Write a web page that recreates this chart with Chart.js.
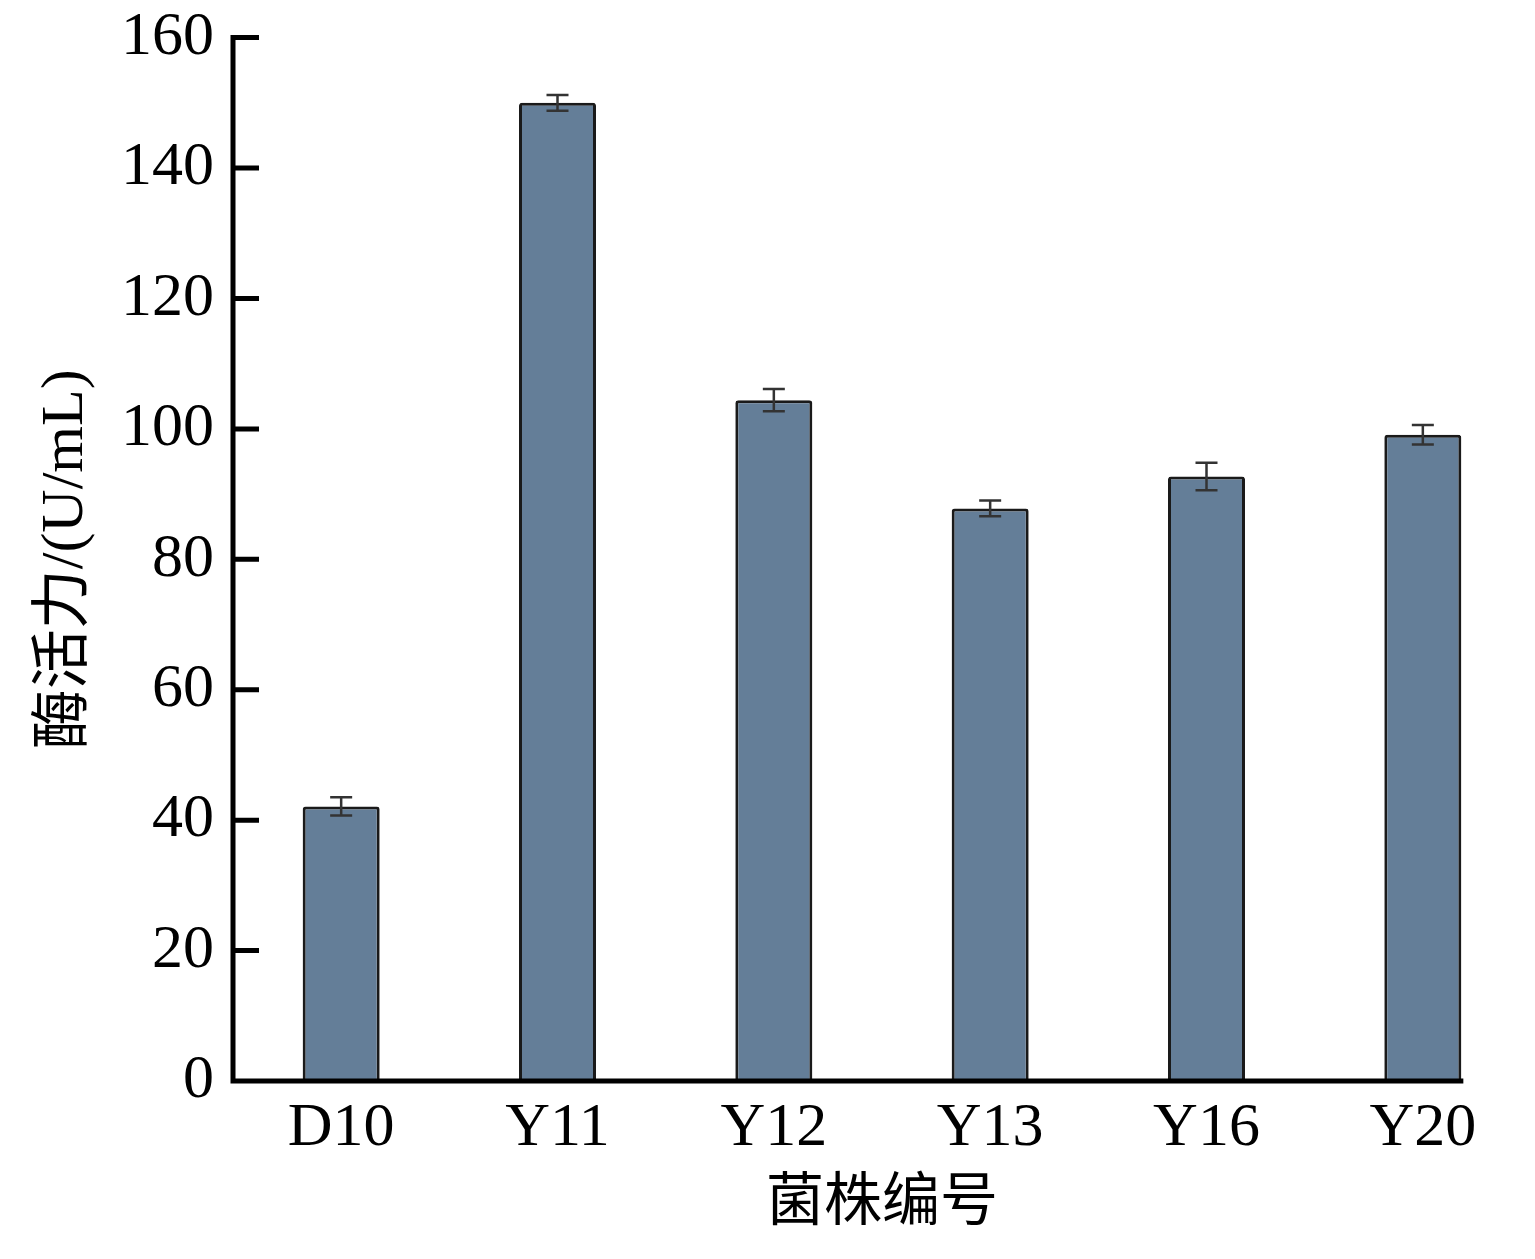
<!DOCTYPE html>
<html>
<head>
<meta charset="utf-8">
<style>
  html, body { margin: 0; padding: 0; background: #fff; }
  #wrap { width: 1535px; height: 1259px; }
</style>
<script src="https://cdn.jsdelivr.net/npm/chart.js@4/dist/chart.umd.min.js"></script>
</head>
<body>
<div id="wrap"><canvas id="myChart"></canvas></div>
<script>
const strains = ['D10', 'Y11', 'Y12', 'Y13', 'Y16', 'Y20'];
const activity = [42.1, 150.0, 104.4, 87.8, 92.7, 99.1];
const errors = [1.4, 1.2, 1.7, 1.2, 2.1, 1.5];
const yTicks = [0, 20, 40, 60, 80, 100, 120, 140, 160];

const serif = "'Liberation Serif', 'Noto Sans CJK SC', serif";

// error bars + axes drawn on top of bars
const extras = {
    id: 'extras',
    afterDatasetsDraw(chart) {
        const ctx = chart.ctx;
        const y = chart.scales.y;
        const meta = chart.getDatasetMeta(0);
        ctx.save();
        // error bars
        ctx.strokeStyle = '#333';
        ctx.lineWidth = 2.5;
        meta.data.forEach((bar, i) => {
            const hi = y.getPixelForValue(activity[i] + errors[i]);
            const lo = y.getPixelForValue(activity[i] - errors[i]);
            ctx.beginPath();
            ctx.moveTo(bar.x, hi); ctx.lineTo(bar.x, lo);
            ctx.moveTo(bar.x - 11, hi); ctx.lineTo(bar.x + 11, hi);
            ctx.moveTo(bar.x - 11, lo); ctx.lineTo(bar.x + 11, lo);
            ctx.stroke();
        });
        // axes
        const left = chart.chartArea.left;
        const bottom = y.getPixelForValue(0);
        const last = meta.data[meta.data.length - 1];
        const right = last.x + last.width / 2 + 2;
        ctx.strokeStyle = '#000';
        ctx.lineWidth = 5;
        ctx.beginPath();
        ctx.moveTo(left, y.getPixelForValue(yTicks[yTicks.length - 1]) - 2.5);
        ctx.lineTo(left, bottom + 2.5);
        ctx.moveTo(left - 2.5, bottom);
        ctx.lineTo(right, bottom);
        yTicks.forEach(v => {
            const py = y.getPixelForValue(v);
            ctx.moveTo(left, py);
            ctx.lineTo(left + 26, py);
        });
        ctx.stroke();
        ctx.restore();
    }
};

new Chart(document.getElementById('myChart'), {
    type: 'bar',
    data: {
        labels: strains,
        datasets: [{
            data: activity,
            backgroundColor: '#647e98',
            borderColor: '#1a1a1a',
            borderWidth: 3,
            borderRadius: 3,
            borderSkipped: 'bottom',
            barPercentage: 0.356,
            categoryPercentage: 1
        }]
    },
    options: {
        responsive: true,
        maintainAspectRatio: false,
        animation: false,
        devicePixelRatio: 1,
        layout: { padding: { left: 30, right: 4, top: 0, bottom: 25 } },
        plugins: {
            legend: { display: false },
            tooltip: { enabled: false }
        },
        scales: {
            x: {
                grid: { display: false, drawTicks: false },
                border: { display: false },
                ticks: {
                    padding: 23,
                    color: '#000',
                    font: { family: serif, size: 62, lineHeight: 0.79 }
                },
                title: {
                    display: true,
                    text: '菌株编号',
                    color: '#000',
                    padding: { top: 0, bottom: 0 },
                    font: { family: serif, size: 58, lineHeight: 1 }
                }
            },
            y: {
                min: 0,
                max: 160,
                grid: { display: false, drawTicks: false },
                border: { display: false },
                afterBuildTicks: (scale) => {
                    scale.ticks = yTicks.map(v => ({ value: v }));
                },
                ticks: {
                    padding: 19,
                    color: '#000',
                    font: { family: serif, size: 62, lineHeight: 0.6 }
                },
                title: {
                    display: true,
                    text: '酶活力/(U/mL)',
                    color: '#000',
                    padding: { top: 0, bottom: 0 },
                    font: { family: serif, size: 60 }
                }
            }
        }
    },
    plugins: [extras]
});
</script>
</body>
</html>
